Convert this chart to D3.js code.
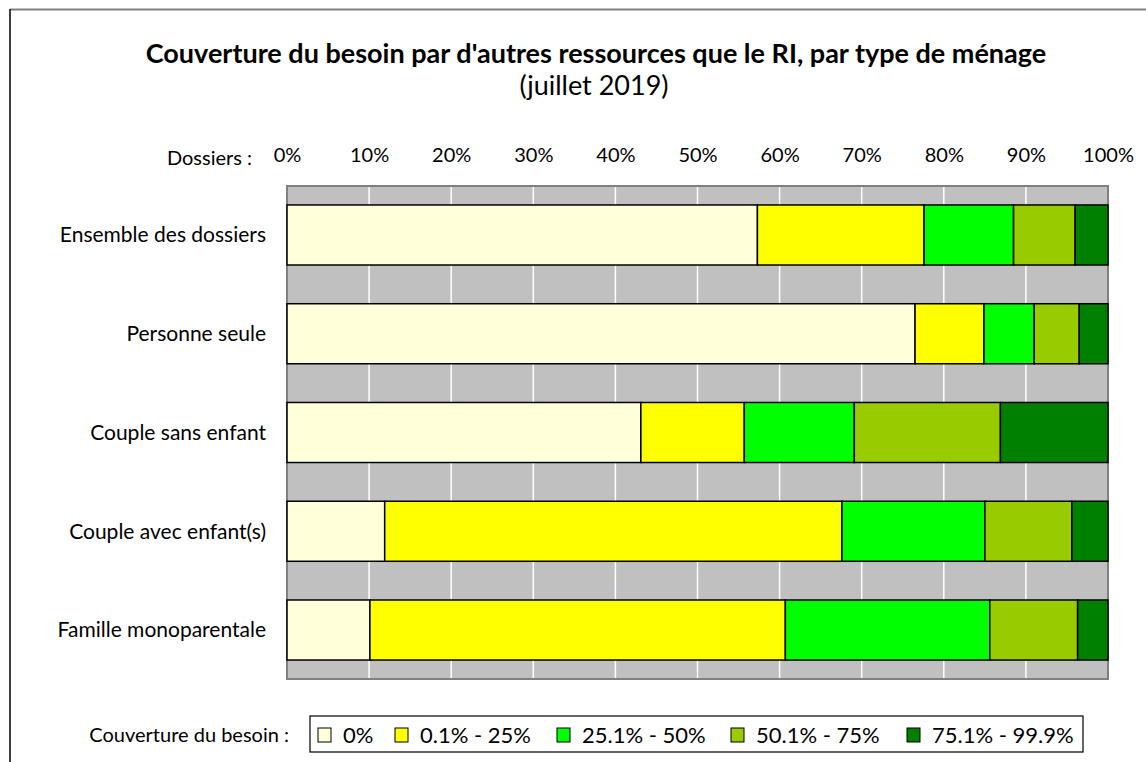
<!DOCTYPE html>
<html>
<head>
<meta charset="utf-8">
<script src="https://d3js.org/d3.v7.min.js"></script>
<style>
  body { margin: 0; background: #fff; }
  text { font-family: Lato, "Open Sans", sans-serif; fill: #000; }
</style>
</head>
<body>
<div id="chart"></div>
<script>
var categories = ["Ensemble des dossiers", "Personne seule", "Couple sans enfant",
                  "Couple avec enfant(s)", "Famille monoparentale"];
var seriesNames = ["0%", "0.1% - 25%", "25.1% - 50%", "50.1% - 75%", "75.1% - 99.9%"];
var seriesColors = ["#FFFFDA", "#FFFF00", "#00FF00", "#99CC00", "#008000"];

// share of dossiers (%) per tranche, same order as categories
var s0   = [57.3, 76.5, 43.1, 11.9, 10.1];
var s25  = [20.3,  8.4, 12.6, 55.7, 50.6];
var s50  = [10.9,  6.1, 13.4, 17.4, 24.9];
var s75  = [ 7.5,  5.5, 17.8, 10.6, 10.7];
var s100 = [ 4.0,  3.5, 13.1,  4.4,  3.7];
var tickValues = [0, 10, 20, 30, 40, 50, 60, 70, 80, 90, 100];

var width = 1146, height = 762;
var plotL = 287, plotR = 1108, plotT = 186, plotB = 679;

var svg = d3.select("#chart").append("svg")
    .attr("width", width)
    .attr("height", height);

// outer frame
svg.append("line").attr("x1", 10).attr("x2", width).attr("y1", 9.5).attr("y2", 9.5)
    .attr("stroke", "#808080").attr("stroke-width", 2);
svg.append("line").attr("x1", 10).attr("x2", 10).attr("y1", 9).attr("y2", height)
    .attr("stroke", "#000").attr("stroke-width", 1.5);

svg.append("text").attr("x", 596).attr("y", 63).attr("text-anchor", "middle")
    .style("font-size", "27px").style("font-weight", "bold")
    .text("Couverture du besoin par d'autres ressources que le RI, par type de ménage");
svg.append("text").attr("x", 594).attr("y", 95).attr("text-anchor", "middle")
    .style("font-size", "27px")
    .text("(juillet 2019)");

var x = d3.scaleLinear().domain([0, 100]).range([plotL, plotR]);
var y = d3.scaleBand().domain(categories).range([plotT, plotB])
    .paddingInner(0.392).paddingOuter(0.192);

// plot background
svg.append("rect").attr("x", plotL).attr("y", plotT)
    .attr("width", plotR - plotL).attr("height", plotB - plotT)
    .attr("fill", "#C0C0C0");

svg.append("g").selectAll("line")
  .data(tickValues.slice(1, -1))
  .join("line")
    .attr("x1", d => x(d)).attr("x2", d => x(d))
    .attr("y1", plotT).attr("y2", plotB)
    .attr("stroke", "#fff").attr("stroke-width", 1.5);

svg.append("rect").attr("x", plotL).attr("y", plotT)
    .attr("width", plotR - plotL).attr("height", plotB - plotT)
    .attr("fill", "none").attr("stroke", "#808080").attr("stroke-width", 2);

// top axis labels
var axis = svg.append("g")
    .attr("transform", "translate(0,165)")
    .call(d3.axisTop(x).tickValues(tickValues).tickFormat(d => d + "%").tickSize(0));
axis.select(".domain").remove();
axis.selectAll("text").style("font-size", "20px").attr("dy", 0)
    .style("font-family", "Lato, sans-serif").attr("fill", "#000");

svg.append("text").attr("x", 252).attr("y", 165).attr("text-anchor", "end")
    .style("font-size", "20px").text("Dossiers :");

// stacked bars
var stackData = categories.map(function(c, i) {
  var vals = [s0[i], s25[i], s50[i], s75[i], s100[i]];
  var o = { cat: c };
  seriesNames.forEach(function(s, j) { o[s] = vals[j]; });
  return o;
});
var stack = d3.stack().keys(seriesNames)(stackData);

svg.append("g").selectAll("g")
  .data(stack)
  .join("g")
    .attr("fill", (d, i) => seriesColors[i])
  .selectAll("rect")
  .data(d => d)
  .join("rect")
    .attr("x", d => x(d[0]))
    .attr("y", d => y(d.data.cat))
    .attr("width", d => x(d[1]) - x(d[0]))
    .attr("height", y.bandwidth())
    .attr("stroke", "#000").attr("stroke-width", 1.5);

// category labels
svg.append("g").selectAll("text")
  .data(categories)
  .join("text")
    .attr("x", 266)
    .attr("y", d => y(d) + y.bandwidth() / 2)
    .attr("dy", "0.35em")
    .attr("text-anchor", "end")
    .style("font-size", "21px")
    .text(d => d);

// legend
var legendY = 735;
svg.append("text").attr("x", 289).attr("y", legendY).attr("dy", "0.35em")
    .attr("text-anchor", "end").style("font-size", "20px")
    .text("Couverture du besoin :");
svg.append("rect").attr("x", 310).attr("y", 716).attr("width", 773).attr("height", 36)
    .attr("fill", "#fff").attr("stroke", "#000").attr("stroke-width", 1.2);

var legendX = [318, 395, 557, 731, 907];
var item = svg.append("g").selectAll("g")
  .data(seriesNames)
  .join("g")
    .attr("transform", (d, i) => "translate(" + legendX[i] + "," + legendY + ")");
item.append("rect").attr("x", 0).attr("y", -7).attr("width", 13).attr("height", 14)
    .attr("fill", (d, i) => seriesColors[i]).attr("stroke", "#000").attr("stroke-width", 1);
item.append("text").attr("x", 25).attr("dy", "0.35em")
    .style("font-size", "22px").text(d => d);
</script>
</body>
</html>
